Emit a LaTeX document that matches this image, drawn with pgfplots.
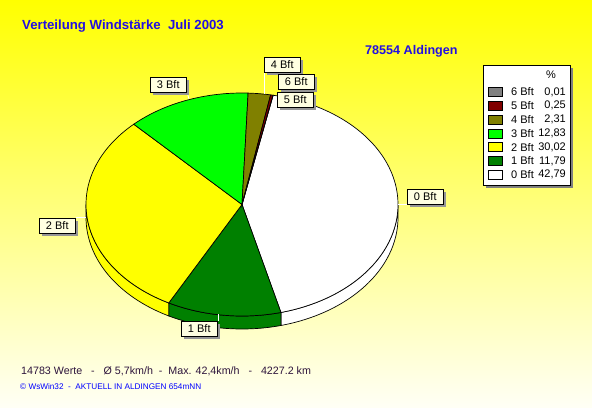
\documentclass[border=0pt]{standalone}
\usepackage{pgfplots}
\pgfplotsset{compat=1.18}
\usepackage{fontspec}
\setmainfont{Liberation Sans}

\definecolor{c0}{RGB}{255,255,255}
\definecolor{c1}{RGB}{0,128,0}
\definecolor{c2}{RGB}{255,255,0}
\definecolor{c3}{RGB}{0,255,0}
\definecolor{c4}{RGB}{128,128,0}
\definecolor{c5}{RGB}{128,0,0}
\definecolor{c6}{RGB}{128,128,128}
\definecolor{titleblue}{RGB}{35,15,225}
\definecolor{lblfill}{RGB}{255,255,225}
\definecolor{shadowgray}{RGB}{150,150,150}
\definecolor{bgtop}{RGB}{255,255,0}
\definecolor{bgbot}{RGB}{255,255,246}
\definecolor{darktext}{RGB}{45,20,60}

% percentages (0 Bft ... 6 Bft)
\def\pZero{42.79}
\def\pOne{11.79}
\def\pTwo{30.02}
\def\pThree{12.83}
\def\pFour{2.31}
\def\pFive{0.25}
\def\pSix{0.01}

% pie geometry (pixel units)
\def\cx{242}
\def\cy{204.5}
\def\rx{156}
\def\ry{111.5}
\def\dep{13}

\pgfmathsetmacro{\angA}{78.5}
\pgfmathsetmacro{\angB}{\angA-3.6*\pZero}
\pgfmathsetmacro{\angC}{\angB-3.6*\pOne}
\pgfmathsetmacro{\angD}{\angC-3.6*\pTwo}
\pgfmathsetmacro{\angE}{\angD-3.6*\pThree}
\pgfmathsetmacro{\angF}{\angE-3.6*\pFour}
\pgfmathsetmacro{\angG}{\angF-3.6*\pFive}
\pgfmathsetmacro{\angH}{\angG-3.6*\pSix}

\newcommand{\sector}[4]{% color, from, to, samples
  \addplot[fill=#1, draw=black, line width=0.7pt, domain=#2:#3, samples=#4, forget plot]
    ({\cx+\rx*cos(x)},{\cy-\ry*sin(x)}) -- (axis cs:\cx,\cy) -- cycle;}

% side wall: parameter 0..40 runs along the top rim, 41..81 back along the bottom rim
\newcommand{\side}[3]{% color, from, to
  \addplot[fill=#1, draw=black, line width=0.7pt, domain=0:81, samples=82, forget plot]
    ({\cx+\rx*cos(x<40.5 ? #2+(#3-#2)*x/40 : #3-(#3-#2)*(x-41)/40)},
     {\cy-\ry*sin(x<40.5 ? #2+(#3-#2)*x/40 : #3-(#3-#2)*(x-41)/40) + (x<40.5 ? 0 : \dep)}) -- cycle;}

\newcommand{\lblfont}{\fontsize{11bp}{13bp}\selectfont}

\newcommand{\pielabel}[3]{% x, y (top-left), text
  \node[anchor=north west, fill=shadowgray, minimum width=36bp, minimum height=15bp, inner sep=0pt, xshift=3bp, yshift=-3bp] at (axis cs:#1,#2) {};
  \node[anchor=north west, draw=black, fill=lblfill, line width=0.6pt, minimum width=36bp, minimum height=15bp, inner sep=0pt, font=\lblfont] at (axis cs:#1,#2) {#3};}

\newcommand{\legrow}[4]{% y center, color, label, value
  \node[draw=black, fill=#2, line width=0.6pt, minimum width=14bp, minimum height=9bp, inner sep=0pt] at (axis cs:495,#1) {};
  \node[anchor=west, inner sep=0pt, font=\lblfont] at (axis cs:511,#1) {#3};
  \node[anchor=east, inner sep=0pt, font=\lblfont] at (axis cs:566,#1) {#4};}

\begin{document}
\begin{tikzpicture}
\shade[top color=bgtop, bottom color=bgbot] (0,0) rectangle (592bp,408bp);
\begin{axis}[at={(0,0)}, anchor=south west, width=592bp, height=408bp, scale only axis,
  xmin=0, xmax=592, ymin=0, ymax=408, y dir=reverse, hide axis, clip=false]

% side walls (front)
\side{c0}{\angB}{0}
\side{c1}{\angC}{\angB}
\side{c2}{-180}{\angC}

% top faces
\sector{c0}{\angB}{\angA}{90}
\sector{c1}{\angC}{\angB}{30}
\sector{c2}{\angD}{\angC}{70}
\sector{c3}{\angE}{\angD}{30}
\sector{c4}{\angF}{\angE}{8}
\sector{c5}{\angG}{\angF}{2}
\sector{c6}{\angH}{\angG}{2}

% leader lines
\draw[white, line width=0.8pt] (axis cs:398,204) -- (axis cs:407,204);
\draw[white, line width=0.8pt] (axis cs:218,314) -- (axis cs:218,321);
\draw[white, line width=0.8pt] (axis cs:76,217) -- (axis cs:86,217);
\draw[white, line width=0.8pt] (axis cs:187,92) -- (axis cs:189,99);
\draw[white, line width=0.8pt] (axis cs:264,72) -- (axis cs:264,94);

% pie labels
\pielabel{407}{189}{0 Bft}
\pielabel{181}{321}{1 Bft}
\pielabel{39}{218}{2 Bft}
\pielabel{150}{77}{3 Bft}
\pielabel{264}{57}{4 Bft}
\pielabel{278}{74}{6 Bft}
\pielabel{277}{92}{5 Bft}

% legend
\fill[c6] (axis cs:486,68) rectangle (axis cs:573,188);
\draw[fill=white, line width=0.7pt] (axis cs:483,65) rectangle (axis cs:570,185);
\node[font=\lblfont, inner sep=0pt] at (axis cs:551,75) {\%};
\legrow{92}{c6}{6 Bft}{0,01}
\legrow{105.8}{c5}{5 Bft}{0,25}
\legrow{119.6}{c4}{4 Bft}{2,31}
\legrow{133.4}{c3}{3 Bft}{12,83}
\legrow{147.2}{c2}{2 Bft}{30,02}
\legrow{161}{c1}{1 Bft}{11,79}
\legrow{174.8}{c0}{0 Bft}{42,79}

% titles
\node[anchor=base west, inner sep=0pt, text=titleblue, font=\fontsize{13.2bp}{16bp}\selectfont\bfseries] at (axis cs:22,30) {Verteilung Windstärke~~Juli 2003};
\node[anchor=base west, inner sep=0pt, text=titleblue, font=\fontsize{12.6bp}{16bp}\selectfont\bfseries] at (axis cs:365,55) {78554 Aldingen};

% footer
\node[anchor=base west, inner sep=0pt, text=darktext, font=\fontsize{10.7bp}{13bp}\selectfont] at (axis cs:21,374) {14783 Werte~~~-~~~Ø 5,7km/h~~-~~Max. 42,4km/h~~~-~~~4227.2 km};
\node[anchor=base west, inner sep=0pt, text=blue, font=\fontsize{8.2bp}{10bp}\selectfont] at (axis cs:20,389) {© WsWin32~~-~~AKTUELL IN ALDINGEN 654mNN};
\end{axis}
\end{tikzpicture}
\end{document}
